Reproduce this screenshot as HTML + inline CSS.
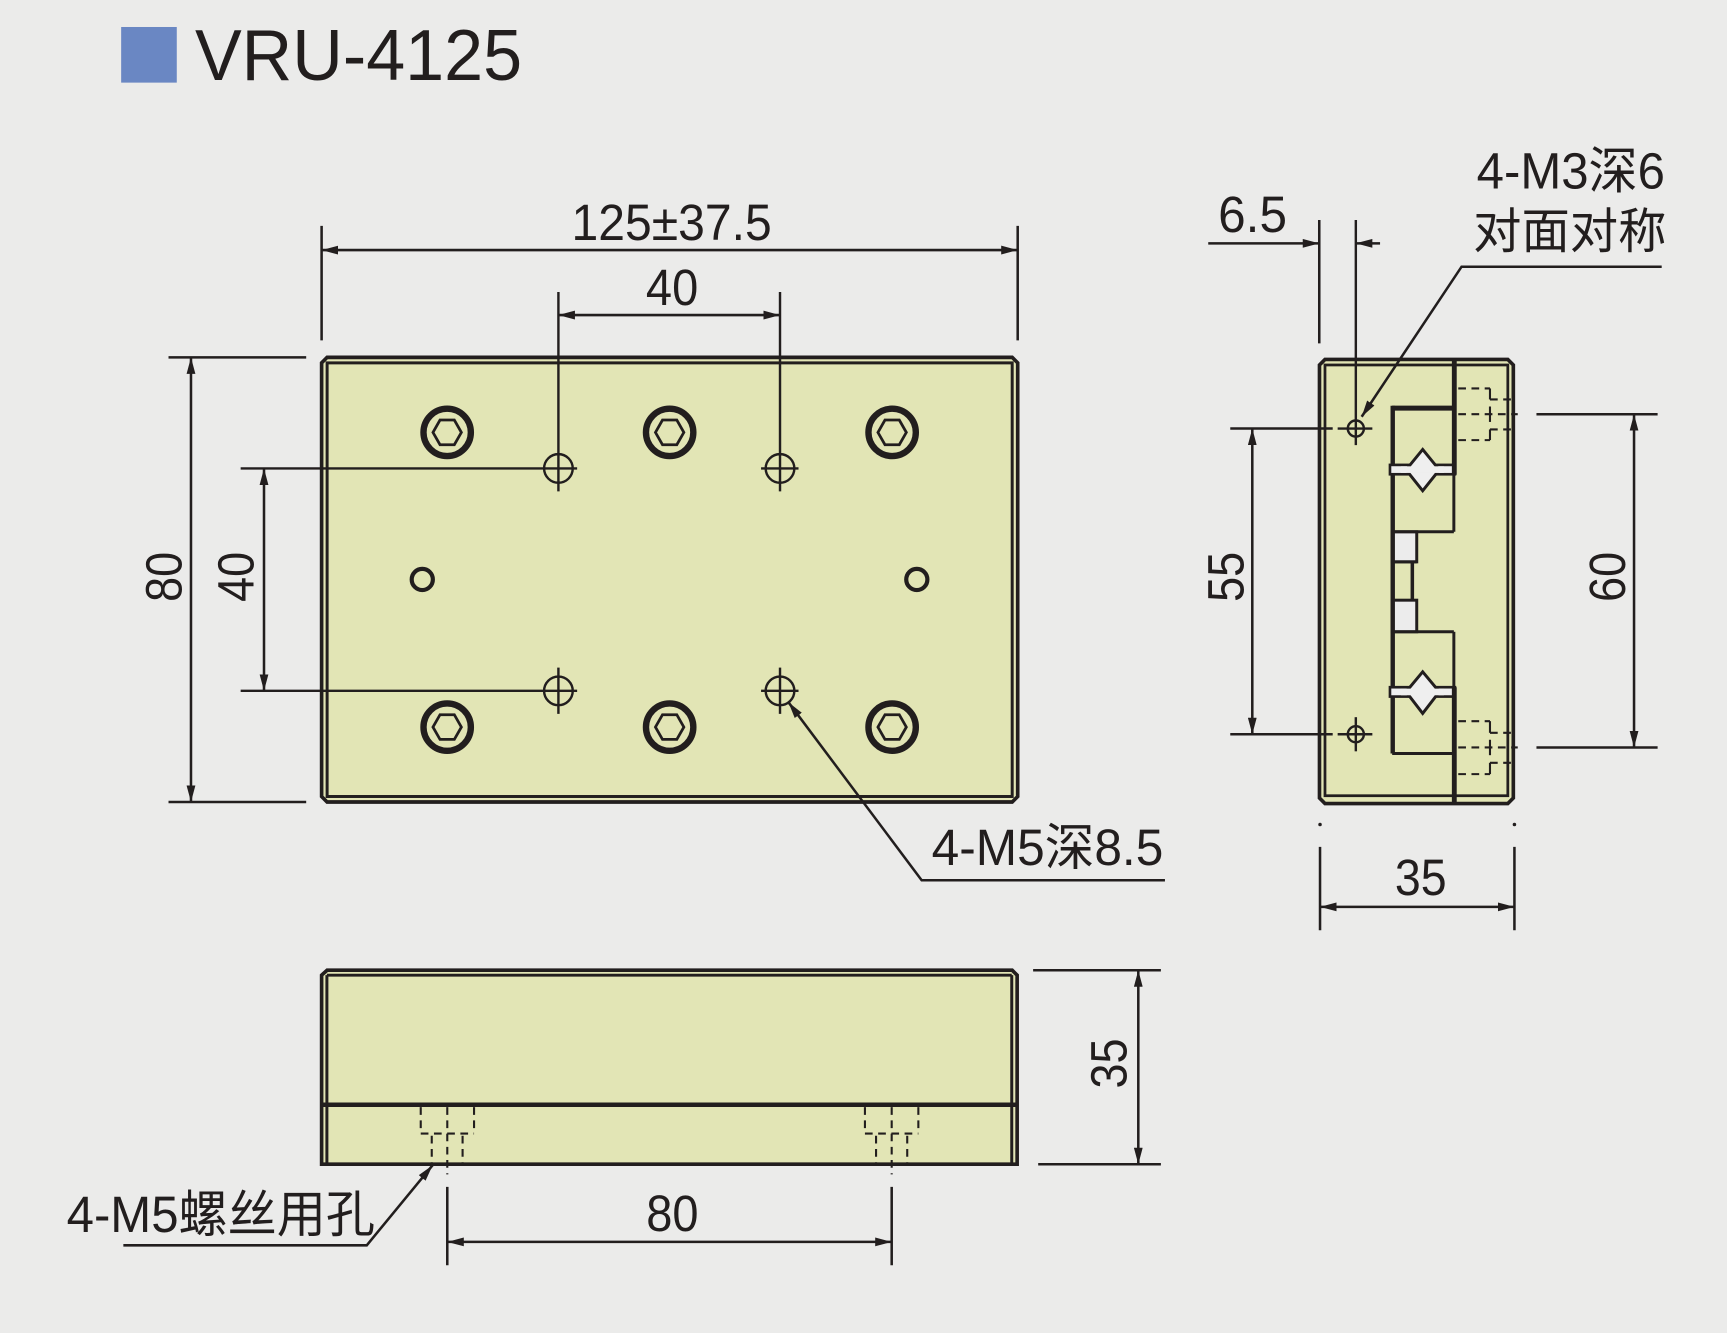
<!DOCTYPE html>
<html><head><meta charset="utf-8"><style>
html,body{margin:0;padding:0;background:#ebebea;}
svg{display:block;}
text{font-family:"Liberation Sans","Noto Sans CJK SC",sans-serif;fill:#221e1e;}
</style></head><body>
<svg width="1727" height="1333" viewBox="0 0 1568 1210" preserveAspectRatio="none" xmlns="http://www.w3.org/2000/svg">
<defs>
<marker id="a" viewBox="0 0 15 8" refX="15" refY="4" markerWidth="15" markerHeight="8" markerUnits="userSpaceOnUse" orient="auto-start-reverse"><path d="M0,0L15,4L0,8z" fill="#221e1e"/></marker>
</defs>
<rect x="0" y="0" width="1568" height="1210" fill="#ebebea"/>

<!-- Title -->
<rect x="110" y="24.5" width="50.5" height="50.5" fill="#6a87c3"/>
<text x="177" y="72.6" font-size="66" textLength="297" lengthAdjust="spacingAndGlyphs">VRU-4125</text>

<g stroke="#221e1e" fill="none" stroke-linecap="butt">

<!-- ===== Main top view ===== -->
<path d="M297,324.4 L919,324.4 L924,329.4 L924,723 L919,728 L297,728 L292,723 L292,329.4 Z" fill="#e2e5b5" stroke-width="3.3"/>
<rect x="297" y="329.4" width="622" height="393.6" stroke-width="2.7"/>

<!-- counterbored screws -->
<g stroke-width="5.8">
<circle cx="406" cy="392.5" r="21.5"/><circle cx="608" cy="392.5" r="21.5"/><circle cx="810" cy="392.5" r="21.5"/>
<circle cx="406" cy="660" r="21.5"/><circle cx="608" cy="660" r="21.5"/><circle cx="810" cy="660" r="21.5"/>
</g>
<g stroke-width="2.5">
<polygon points="393.1,392.5 399.5,381.3 412.5,381.3 418.9,392.5 412.5,403.7 399.5,403.7"/>
<polygon points="595.1,392.5 601.5,381.3 614.5,381.3 620.9,392.5 614.5,403.7 601.5,403.7"/>
<polygon points="797.1,392.5 803.5,381.3 816.5,381.3 822.9,392.5 816.5,403.7 803.5,403.7"/>
<polygon points="393.1,660 399.5,648.8 412.5,648.8 418.9,660 412.5,671.2 399.5,671.2"/>
<polygon points="595.1,660 601.5,648.8 614.5,648.8 620.9,660 614.5,671.2 601.5,671.2"/>
<polygon points="797.1,660 803.5,648.8 816.5,648.8 822.9,660 816.5,671.2 803.5,671.2"/>
</g>
<!-- small pins -->
<circle cx="383.4" cy="526" r="9.6" stroke-width="3.8"/>
<circle cx="832.4" cy="526" r="9.6" stroke-width="3.8"/>

<!-- crosshair holes -->
<g stroke-width="2.2">
<circle cx="507" cy="425.2" r="13"/><circle cx="708.2" cy="425.2" r="13"/>
<circle cx="507" cy="627.1" r="13"/><circle cx="708.2" cy="627.1" r="13"/>
<line x1="218.5" y1="425.2" x2="524" y2="425.2"/>
<line x1="691" y1="425.2" x2="725" y2="425.2"/>
<line x1="218.5" y1="627.1" x2="524" y2="627.1"/>
<line x1="691" y1="627.1" x2="725" y2="627.1"/>
<line x1="507" y1="265" x2="507" y2="446"/>
<line x1="708.2" y1="265" x2="708.2" y2="446"/>
<line x1="507" y1="606" x2="507" y2="648"/>
<line x1="708.2" y1="606" x2="708.2" y2="648"/>
</g>

<!-- dimensions main view -->
<g stroke-width="2.3">
<line x1="292" y1="205" x2="292" y2="309"/>
<line x1="924" y1="205" x2="924" y2="309"/>
<line x1="292" y1="227" x2="924" y2="227" marker-start="url(#a)" marker-end="url(#a)"/>
<line x1="507" y1="286" x2="708.2" y2="286" marker-start="url(#a)" marker-end="url(#a)"/>
<line x1="153" y1="324.4" x2="278" y2="324.4"/>
<line x1="153" y1="728" x2="278" y2="728"/>
<line x1="173.4" y1="324.4" x2="173.4" y2="728" marker-start="url(#a)" marker-end="url(#a)"/>
<line x1="239.7" y1="425.2" x2="239.7" y2="627.1" marker-start="url(#a)" marker-end="url(#a)"/>
<!-- leader 4-M5 depth -->
<polyline points="1057.7,799 836.8,799 715.8,637.4" marker-end="url(#a)"/>
</g>

<!-- ===== Front (bottom) view ===== -->
<path d="M297,880.7 L919,880.7 L923.5,885.2 L923.5,1056.8 L292,1056.8 L292,885.2 Z" fill="#e2e5b5" stroke-width="3.3"/>
<g stroke-width="2.7">
<line x1="296.8" y1="885.2" x2="918.6" y2="885.2"/>
<line x1="296.8" y1="885.2" x2="296.8" y2="1056.8"/>
<line x1="918.6" y1="885.2" x2="918.6" y2="1056.8"/>
</g>
<line x1="292" y1="1002.8" x2="923.5" y2="1002.8" stroke-width="4"/>
<!-- hidden holes -->
<g stroke-width="1.9" stroke-dasharray="7 5">
<line x1="382" y1="1005" x2="382" y2="1029"/>
<line x1="430.4" y1="1005" x2="430.4" y2="1029"/>
<line x1="382" y1="1029" x2="430.4" y2="1029"/>
<line x1="392" y1="1031" x2="392" y2="1056"/>
<line x1="420" y1="1031" x2="420" y2="1056"/>
<line x1="406.1" y1="1005" x2="406.1" y2="1066"/>
<line x1="785.3" y1="1005" x2="785.3" y2="1029"/>
<line x1="833.8" y1="1005" x2="833.8" y2="1029"/>
<line x1="785.3" y1="1029" x2="833.8" y2="1029"/>
<line x1="795.4" y1="1031" x2="795.4" y2="1056"/>
<line x1="823.7" y1="1031" x2="823.7" y2="1056"/>
<line x1="809.6" y1="1005" x2="809.6" y2="1066"/>
</g>
<g stroke-width="2.3">
<line x1="406.1" y1="1077.4" x2="406.1" y2="1148.5"/>
<line x1="809.6" y1="1077.4" x2="809.6" y2="1148.5"/>
<line x1="406.1" y1="1127.3" x2="809.6" y2="1127.3" marker-start="url(#a)" marker-end="url(#a)"/>
<line x1="938" y1="880.7" x2="1054" y2="880.7"/>
<line x1="942.6" y1="1056.8" x2="1054" y2="1056.8"/>
<line x1="1033.5" y1="880.7" x2="1033.5" y2="1056.8" marker-start="url(#a)" marker-end="url(#a)"/>
<polyline points="112,1130.4 333,1130.4 392.8,1057.7" marker-end="url(#a)"/>
</g>

<!-- ===== Side view ===== -->
<path d="M1203,326.3 L1369,326.3 L1374,331.3 L1374,724.4 L1369,729.4 L1203,729.4 L1198,724.4 L1198,331.3 Z" fill="#e2e5b5" stroke-width="3.3"/>
<rect x="1203" y="331.3" width="166" height="391" stroke-width="2.5"/>
<!-- middle parts -->
<rect x="1264" y="482.7" width="22.3" height="27.3" fill="#ececec" stroke-width="2.7"/>
<rect x="1264" y="544.8" width="22.3" height="28.7" fill="#ececec" stroke-width="2.7"/>
<line x1="1264" y1="510" x2="1286.3" y2="510" stroke-width="2.7"/>
<line x1="1282.3" y1="510" x2="1282.3" y2="544.8" stroke-width="3.2"/>
<!-- upper block -->
<line x1="1264" y1="370.5" x2="1320" y2="370.5" stroke-width="4.5"/>
<line x1="1264" y1="482.7" x2="1320" y2="482.7" stroke-width="2.7"/>
<line x1="1320" y1="431" x2="1320" y2="482.7" stroke-width="2.7"/>
<!-- lower block -->
<line x1="1264" y1="573.5" x2="1320" y2="573.5" stroke-width="2.7"/>
<line x1="1264" y1="684" x2="1320" y2="684" stroke-width="2.7"/>
<line x1="1320" y1="573.5" x2="1320" y2="624" stroke-width="2.7"/>
<!-- left edge of carriage -->
<line x1="1264.5" y1="368.3" x2="1264.5" y2="684" stroke-width="4"/>
<!-- bands + diamonds -->
<rect x="1262" y="422" width="59" height="8.5" fill="#efefef" stroke-width="2.4"/>
<polygon points="1291.7,408 1306.8,426.5 1291.7,445.5 1276.6,426.5" fill="#efefef" stroke-width="2.7"/>
<rect x="1272" y="423.3" width="39" height="6" fill="#efefef" stroke="none"/>
<rect x="1262" y="623.8" width="59" height="8.5" fill="#efefef" stroke-width="2.4"/>
<polygon points="1291.7,609.8 1306.8,628 1291.7,647.6 1276.6,628" fill="#efefef" stroke-width="2.7"/>
<rect x="1272" y="625.1" width="39" height="6" fill="#efefef" stroke="none"/>
<!-- main vertical thick line -->
<line x1="1320.4" y1="325" x2="1320.4" y2="431" stroke-width="4.4"/>
<line x1="1320.4" y1="623.8" x2="1320.4" y2="730.5" stroke-width="4.4"/>

<!-- hidden lines side view -->
<g stroke-width="1.9" stroke-dasharray="7 5">
<line x1="1324" y1="352.6" x2="1352.8" y2="352.6"/>
<line x1="1352.8" y1="362.6" x2="1375" y2="362.6"/>
<line x1="1324" y1="376" x2="1378" y2="376"/>
<line x1="1352.8" y1="389.8" x2="1375" y2="389.8"/>
<line x1="1324" y1="399.5" x2="1352.8" y2="399.5"/>
<line x1="1324" y1="654.6" x2="1352.8" y2="654.6"/>
<line x1="1352.8" y1="665.2" x2="1375" y2="665.2"/>
<line x1="1324" y1="678.5" x2="1378" y2="678.5"/>
<line x1="1352.8" y1="692.4" x2="1375" y2="692.4"/>
<line x1="1324" y1="702.7" x2="1352.8" y2="702.7"/>
</g>
<g stroke-width="1.9">
<line x1="1352.8" y1="352.6" x2="1352.8" y2="362.6"/>
<line x1="1352.8" y1="369" x2="1352.8" y2="383"/>
<line x1="1352.8" y1="389.8" x2="1352.8" y2="399.5"/>
<line x1="1352.8" y1="654.6" x2="1352.8" y2="665.2"/>
<line x1="1352.8" y1="671.5" x2="1352.8" y2="685.5"/>
<line x1="1352.8" y1="692.4" x2="1352.8" y2="702.7"/>
</g>

<!-- side crosshairs -->
<g stroke-width="2.2">
<circle cx="1231" cy="389" r="7.3"/>
<circle cx="1231" cy="666.5" r="7.3"/>
<line x1="1214.5" y1="389" x2="1246" y2="389"/>
<line x1="1214.5" y1="666.5" x2="1246" y2="666.5"/>
<line x1="1231" y1="199.7" x2="1231" y2="404"/>
<line x1="1231" y1="651" x2="1231" y2="682"/>
</g>

<!-- side dims -->
<g stroke-width="2.3">
<line x1="1117" y1="389" x2="1210" y2="389"/>
<line x1="1117" y1="666.5" x2="1210" y2="666.5"/>
<line x1="1137" y1="389" x2="1137" y2="666.5" marker-start="url(#a)" marker-end="url(#a)"/>
<line x1="1395" y1="376" x2="1505" y2="376"/>
<line x1="1395" y1="678.5" x2="1505" y2="678.5"/>
<line x1="1483.6" y1="376" x2="1483.6" y2="678.5" marker-start="url(#a)" marker-end="url(#a)"/>
<line x1="1197.8" y1="199.7" x2="1197.8" y2="311.7"/>
<line x1="1097" y1="220.9" x2="1197.8" y2="220.9" marker-end="url(#a)"/>
<line x1="1253" y1="220.9" x2="1231" y2="220.9" marker-end="url(#a)"/>
<polyline points="1508.7,242.1 1327,242.1 1236.3,378.3" marker-end="url(#a)"/>
<line x1="1198.5" y1="768.7" x2="1198.5" y2="844.4"/>
<line x1="1375" y1="768.7" x2="1375" y2="844.4"/>
<line x1="1198.5" y1="823.2" x2="1375" y2="823.2" marker-start="url(#a)" marker-end="url(#a)"/>
</g>
</g>
<circle cx="1198.5" cy="748.4" r="1.6" fill="#221e1e"/>
<circle cx="1375" cy="748.4" r="1.6" fill="#221e1e"/>

<!-- texts -->
<g font-size="46">
<text x="609.8" y="217.9" text-anchor="middle" textLength="181.7" lengthAdjust="spacingAndGlyphs">125±37.5</text>
<text x="610.2" y="276.9" text-anchor="middle" textLength="47.5" lengthAdjust="spacingAndGlyphs">40</text>
<text transform="translate(165,523.6) rotate(-90)" text-anchor="middle" textLength="45.4" lengthAdjust="spacingAndGlyphs">80</text>
<text transform="translate(230,523.6) rotate(-90)" text-anchor="middle" textLength="45.4" lengthAdjust="spacingAndGlyphs">40</text>
<text x="845.9" y="785.4" textLength="210.3" lengthAdjust="spacingAndGlyphs">4-M5深8.5</text>
<text x="610.5" y="1117.5" text-anchor="middle" textLength="47.5" lengthAdjust="spacingAndGlyphs">80</text>
<text x="60.5" y="1118.3" textLength="280" lengthAdjust="spacingAndGlyphs">4-M5螺丝用孔</text>
<text transform="translate(1023,965.4) rotate(-90)" text-anchor="middle" textLength="45.4" lengthAdjust="spacingAndGlyphs">35</text>
<text x="1106" y="210.5" textLength="62.5" lengthAdjust="spacingAndGlyphs">6.5</text>
<text x="1340.7" y="171" textLength="171" lengthAdjust="spacingAndGlyphs">4-M3深6</text>
<text x="1337.5" y="225" font-size="44" textLength="175.5" lengthAdjust="spacingAndGlyphs">对面对称</text>
<text transform="translate(1129,523.6) rotate(-90)" text-anchor="middle" textLength="45.4" lengthAdjust="spacingAndGlyphs">55</text>
<text transform="translate(1475.4,523.6) rotate(-90)" text-anchor="middle" textLength="45.4" lengthAdjust="spacingAndGlyphs">60</text>
<text x="1290" y="812.6" text-anchor="middle" textLength="47" lengthAdjust="spacingAndGlyphs">35</text>
</g>
</svg>
</body></html>
